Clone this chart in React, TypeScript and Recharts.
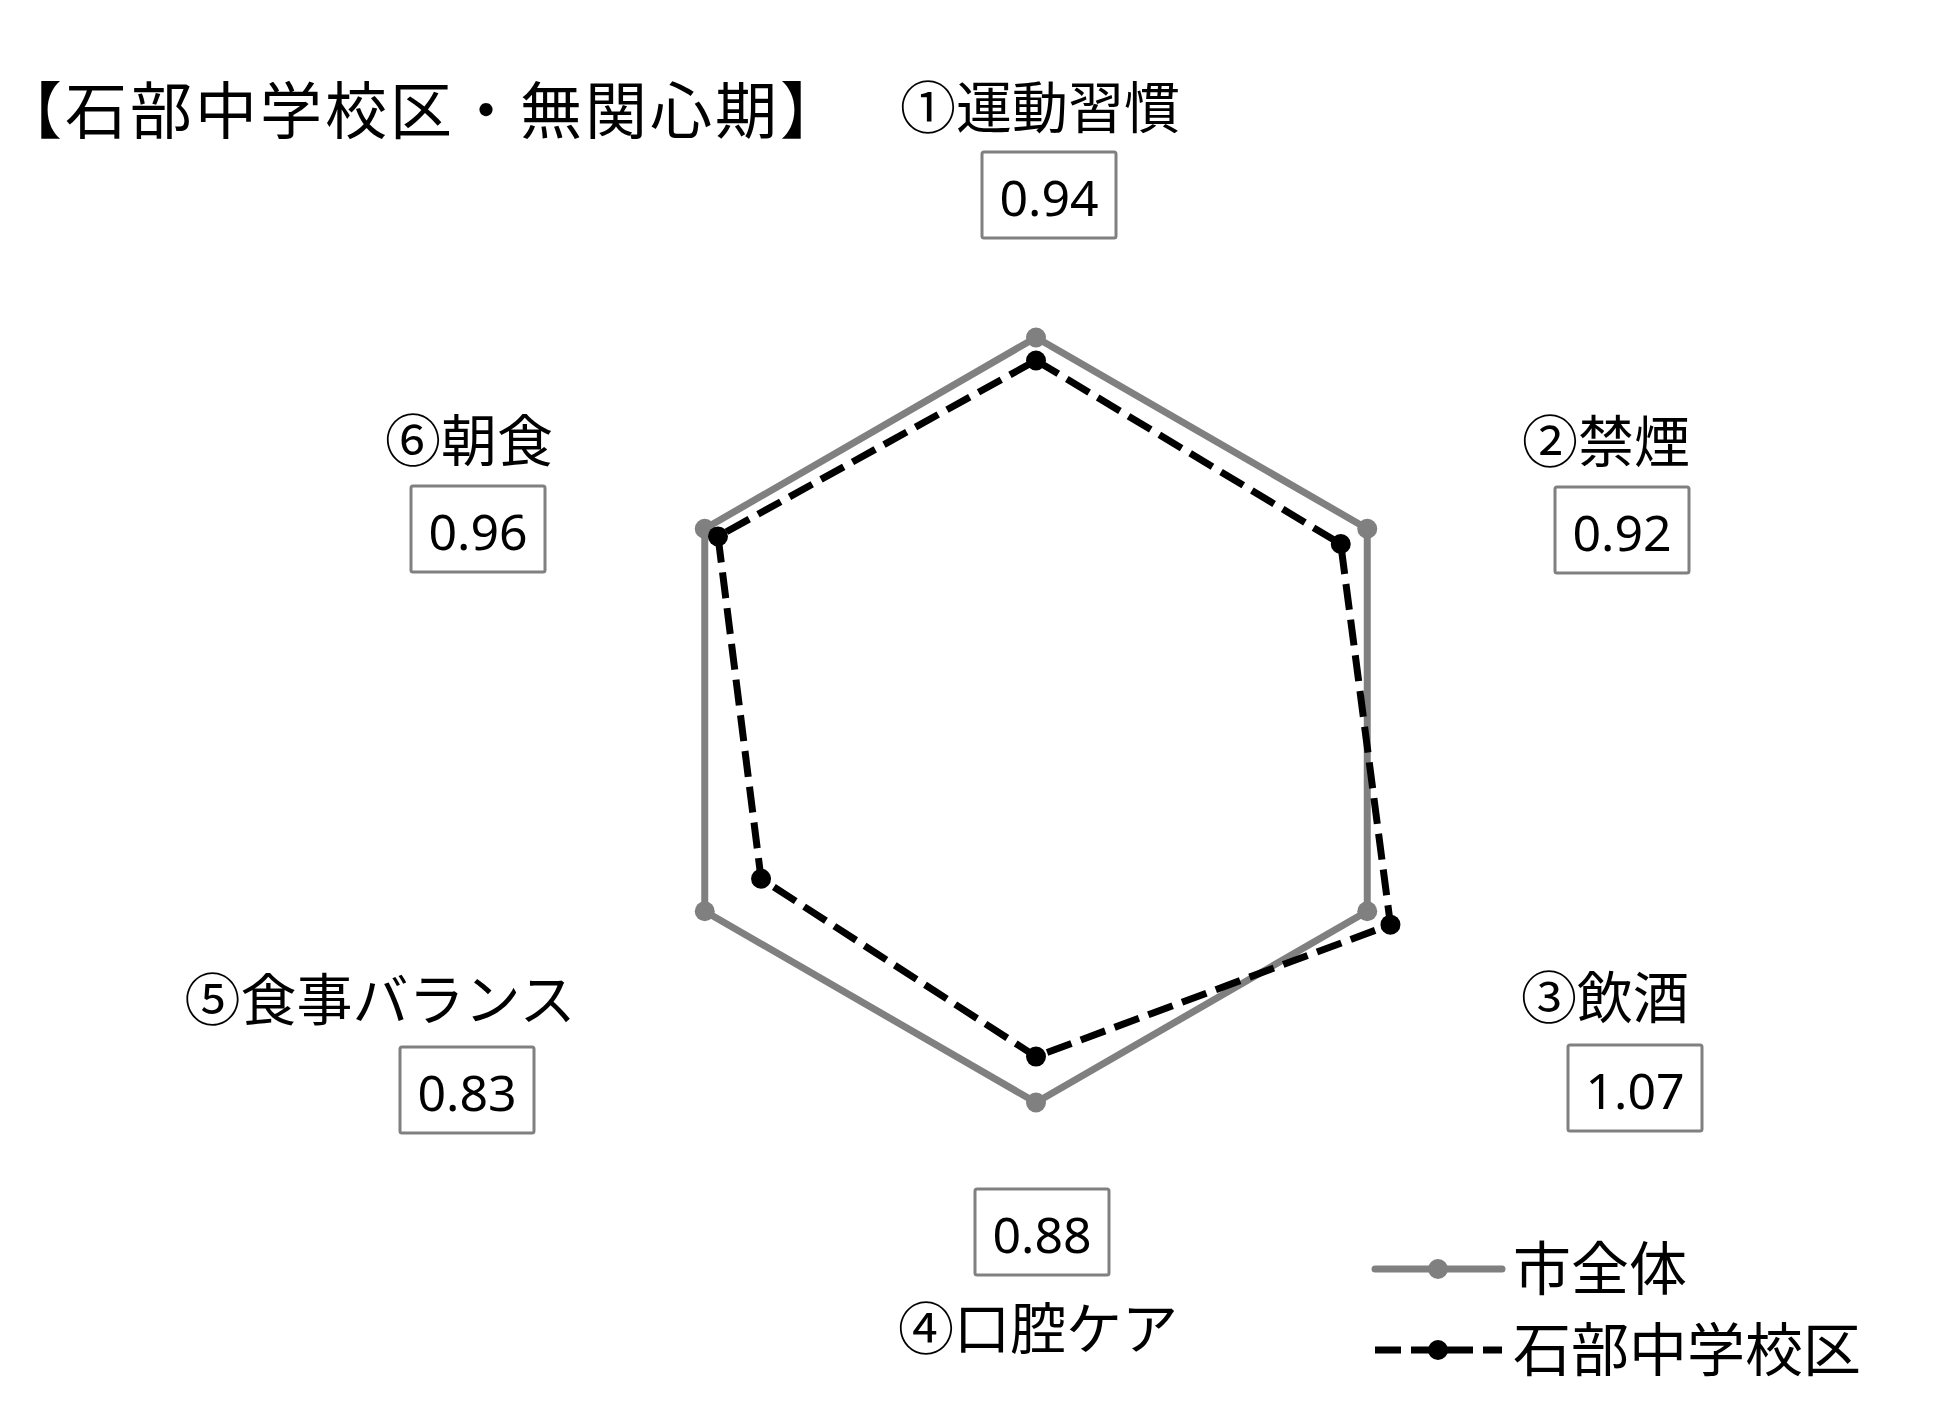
import React from "react";
import {
  RadarChart,
  Radar,
  PolarAngleAxis,
  PolarRadiusAxis,
  Legend,
} from "recharts";

const categories = ["①運動習慣", "②禁煙", "③飲酒", "④口腔ケア", "⑤食事バランス", "⑥朝食"];
const cityValues = [1.0, 1.0, 1.0, 1.0, 1.0, 1.0];
const districtValues = [0.94, 0.92, 1.07, 0.88, 0.83, 0.96];
const seriesNames = ["市全体", "石部中学校区"];
const title = "【石部中学校区・無関心期】";

const W = 1960;
const H = 1417;
const CX = 1036;
const CY = 720;
const JP = '"Noto Sans CJK JP", "Noto Sans", sans-serif';
const NUM = '"Noto Sans", "Open Sans", sans-serif';
const GRAY = "#808080";
const DASH = "26 10";

// label / value-box centres, relative to the chart centre
const labelOffsets = [
  { lx: 4, ly: -617, bx: 13, by: -525 },
  { lx: 570, ly: -283, bx: 586, by: -190 },
  { lx: 569, ly: 273, bx: 599, by: 368 },
  { lx: 2, ly: 604, bx: 6, by: 512 },
  { lx: -656, ly: 275, bx: -569, by: 370 },
  { lx: -567, ly: -284, bx: -558, by: -191 },
];

const data = categories.map((c, i) => ({
  category: c,
  city: cityValues[i],
  district: districtValues[i],
}));

function AxisLabel(props: any) {
  const idx =
    typeof props.index === "number"
      ? props.index
      : categories.indexOf(props.payload?.value);
  const o = labelOffsets[idx];
  if (!o) return null;
  const bw = 134;
  const bh = 86;
  return (
    <g>
      <text
        x={CX + o.lx}
        y={CY + o.ly}
        textAnchor="middle"
        dominantBaseline="central"
        fontFamily={JP}
        fontSize={56}
        fill="#000"
      >
        {categories[idx]}
      </text>
      <rect
        x={CX + o.bx - bw / 2}
        y={CY + o.by - bh / 2}
        width={bw}
        height={bh}
        rx={2}
        fill="#fff"
        stroke={GRAY}
        strokeWidth={3}
      />
      <text
        x={CX + o.bx}
        y={CY + o.by + 2}
        textAnchor="middle"
        dominantBaseline="central"
        fontFamily={NUM}
        fontSize={50}
        fill="#000"
      >
        {districtValues[idx].toFixed(2)}
      </text>
    </g>
  );
}

function LegendContent() {
  const rows = [
    { name: seriesNames[0], color: GRAY, dash: undefined as string | undefined },
    { name: seriesNames[1], color: "#000", dash: DASH },
  ];
  return (
    <svg width={540} height={170} style={{ overflow: "visible" }}>
      {rows.map((r, i) => {
        const y = 49 + i * 81;
        return (
          <g key={r.name}>
            <line
              x1={5}
              x2={132}
              y1={y}
              y2={y}
              stroke={r.color}
              strokeWidth={7}
              strokeLinecap={r.dash ? "butt" : "round"}
              strokeDasharray={r.dash}
            />
            <circle cx={68} cy={y} r={10} fill={r.color} />
            <text
              x={143}
              y={y - 4}
              dominantBaseline="central"
              fontFamily={JP}
              fontSize={58}
              fill="#000"
            >
              {r.name}
            </text>
          </g>
        );
      })}
    </svg>
  );
}

export default function App() {
  return (
    <div
      style={{
        position: "absolute",
        left: 0,
        top: 0,
        width: W,
        height: H,
        background: "#fff",
      }}
    >
      <div
        style={{
          position: "absolute",
          left: 0,
          top: 110 - 36,
          fontFamily: JP,
          fontSize: 62,
          lineHeight: "66px",
          letterSpacing: 3,
          color: "#000",
          whiteSpace: "nowrap",
        }}
      >
        {title}
      </div>
      <RadarChart
        width={W}
        height={H}
        data={data}
        cx={CX}
        cy={CY}
        outerRadius={459}
        startAngle={90}
        endAngle={-270}
        margin={{ top: 0, right: 0, bottom: 0, left: 0 }}
      >
        <PolarRadiusAxis
          type="number"
          domain={[0, 1.2]}
          tick={false}
          axisLine={false}
          tickLine={false}
        />
        <PolarAngleAxis
          dataKey="category"
          axisLine={false}
          tickLine={false}
          tick={(p: any) => <AxisLabel {...p} />}
        />
        <Radar
          name={seriesNames[0]}
          dataKey="city"
          stroke={GRAY}
          strokeWidth={7}
          fill="none"
          fillOpacity={0}
          dot={{ r: 10, fill: GRAY, stroke: "none", fillOpacity: 1 }}
          isAnimationActive={false}
        />
        <Radar
          name={seriesNames[1]}
          dataKey="district"
          stroke="#000"
          strokeWidth={7}
          strokeDasharray={DASH}
          fill="none"
          fillOpacity={0}
          dot={{ r: 10, fill: "#000", stroke: "none", fillOpacity: 1 }}
          isAnimationActive={false}
        />
        <Legend
          content={() => <LegendContent />}
          wrapperStyle={{ left: 1370, top: 1220, width: 540, height: 170 }}
        />
      </RadarChart>
    </div>
  );
}
